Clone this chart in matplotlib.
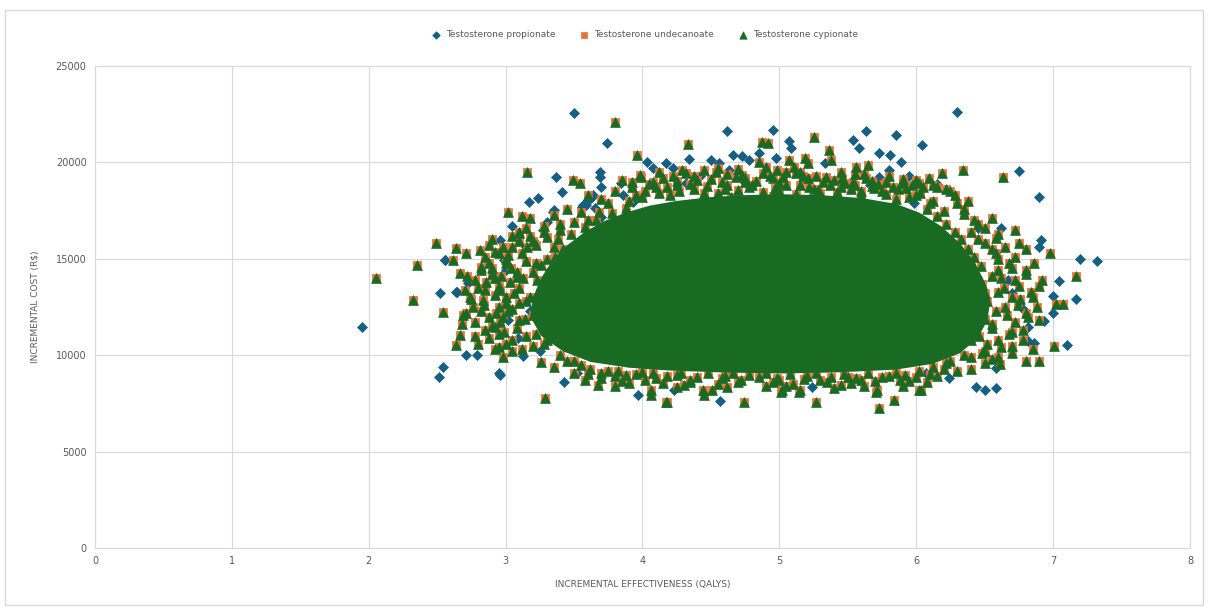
import matplotlib.pyplot as plt
from matplotlib.patches import Rectangle

# Testosterone propionate (blue diamonds)
prop_x = [1.95, 2.52, 2.645, 2.71, 2.79, 2.54, 2.51, 2.96, 3.09, 3.13, 3.43, 3.97, 4.23, 4.57,
          5.24, 6.24, 6.07, 6.44, 6.50, 6.58, 3.50, 3.74, 3.37, 3.69, 3.69, 3.70, 3.41, 3.64,
          3.60, 3.56, 3.17, 3.24, 3.35, 2.96, 2.56, 4.62, 4.95, 5.07, 5.63, 5.85, 6.04, 5.535,
          5.58, 5.725, 5.81, 5.89, 4.34, 4.50, 4.66, 4.73, 4.78, 4.03, 4.08, 4.17, 4.22, 5.085,
          4.56, 4.635, 4.85, 4.975, 5.33, 5.73, 5.80, 3.845, 3.86, 3.93, 3.625, 3.59, 3.65, 3.70,
          6.75, 6.90, 6.91, 6.90, 7.20, 7.32, 7.04, 7.00, 7.17, 6.93, 7.00, 7.10, 6.82, 6.86,
          6.82, 6.70, 6.67, 3.005, 3.15, 3.20, 3.27, 2.725, 2.64, 2.555, 2.99, 2.955, 3.345,
          3.565, 4.42, 5.45, 5.95, 6.15, 6.30, 6.45, 3.30, 3.05,
          3.18, 3.02, 3.25, 6.62, 6.78, 6.58, 4.32, 5.66, 5.98, 3.52]
prop_y = [11480, 13240, 13295, 10010, 10010, 9370, 8885, 8970, 10870, 9960, 8630, 7940, 8200, 7640,
          8370, 8800, 9060, 8330, 8200, 8280, 22580, 21020, 19260, 19520, 19260, 18740, 18480, 18310,
          18050, 17700, 17960, 18140, 17530, 15975, 14940, 21650, 21680, 21130, 21630, 21400, 20900, 21160,
          20760, 20500, 20380, 20040, 20160, 20120, 20380, 20330, 20120, 20040, 19690, 19950, 19690, 20730,
          19950, 19600, 20470, 20210, 19950, 19260, 19600, 18920, 18310, 17960, 18140, 17790, 17620, 17180,
          19570, 18190, 15975, 15600, 14970, 14890, 13830, 13090, 12900, 11790, 12200, 10530, 10720, 10620,
          11480, 13210, 13900, 14420, 15630, 15975, 16500, 13730, 13300, 14940, 14940, 9060, 17450,
          17790, 19300, 19100, 19300, 18900, 22600, 16600, 16900, 16700,
          12300, 11800, 10200, 16600, 12400, 9350, 18950, 18850, 17900, 9050]

# Testosterone undecanoate (orange squares) - fringe of the cloud
und_x = [3.80, 3.96, 4.33, 4.87, 4.92, 5.255, 5.365, 4.85, 4.90, 5.07, 5.11, 5.19, 5.21, 5.38,
         5.56, 5.645, 4.29, 4.45, 4.54, 4.73, 4.95, 5.05, 5.21, 5.34, 5.46, 5.535, 5.83, 5.925,
         5.69, 3.92, 3.99, 3.49, 3.54, 3.16, 6.34, 6.19, 6.09, 6.635,
         4.10, 4.20, 4.35, 4.60, 4.65, 4.80, 5.00, 5.15, 5.30, 5.45, 5.60, 5.75, 5.85, 6.00,
         6.10, 4.00, 3.90, 4.45, 5.55, 4.95, 4.25, 4.75, 5.25, 5.90, 6.05, 6.25, 6.30, 6.20,
         3.75, 3.68, 3.60, 3.80,
         3.02, 3.175, 3.10, 2.64, 2.81, 2.92, 2.71, 2.49, 2.615, 2.82, 2.665, 2.355, 2.05, 2.32,
         2.74, 2.71, 2.54, 2.69, 2.835, 2.88, 2.92, 2.99, 2.665, 2.64, 2.98, 3.26, 3.285, 3.10,
         3.16, 3.22, 3.08, 3.30,
         2.90, 2.95, 3.00, 2.85, 3.05, 3.10, 3.15, 3.20, 3.25, 3.30, 3.35, 3.40, 3.50, 3.60,
         2.78, 2.95, 3.10, 3.15, 3.20, 3.30, 3.25, 3.05, 2.85, 3.40, 3.50, 3.35, 3.00, 3.05,
         3.20, 3.45, 2.90,
         3.674, 3.905, 4.063, 4.173, 4.453, 4.745, 5.012, 5.146, 5.268, 5.705, 5.84, 6.034, 5.73,
         4.18, 4.06, 4.44, 4.51, 5.02, 5.15, 5.71, 6.02,
         3.60, 3.80, 3.95, 4.10, 4.25, 4.35, 4.60, 4.70, 4.85, 5.00, 5.20, 5.35, 5.50, 5.60,
         5.80, 5.95, 6.10, 6.20, 4.30, 4.90, 5.45, 5.90, 3.75, 3.55,
         6.98, 7.17, 7.07, 7.02, 7.01, 6.90, 6.80, 6.61,
         6.45, 6.55, 6.60, 6.70, 6.80, 6.75, 6.85, 6.65, 6.80, 6.90, 6.70, 6.60, 6.50, 6.40,
         6.55, 6.45, 6.35, 6.60, 6.50, 6.55, 6.70, 6.85, 6.62, 6.40, 6.75, 6.90,
         # dense ring just outside the solid core
         3.95, 4.02, 4.12, 4.18, 4.27, 4.38, 4.47, 4.55, 4.62, 4.70, 4.78, 4.88, 4.97, 5.05,
         5.12, 5.22, 5.28, 5.37, 5.42, 5.52, 5.60, 5.68, 5.78, 5.87, 5.95, 6.03, 6.12,
         4.05, 4.15, 4.40, 4.58, 4.68, 4.83, 5.00, 5.17, 5.32, 5.48, 5.63, 5.72, 5.97, 6.15,
         4.25, 4.93,
         3.28, 3.22, 3.30, 3.20, 3.27, 3.18, 3.30, 3.23, 3.32, 3.26, 3.36, 3.42, 3.38, 3.48,
         3.58, 3.66, 3.78, 3.88,
         3.12, 3.08, 3.14, 3.02, 3.10, 3.06, 3.13, 3.04, 3.15, 3.12, 3.22, 3.28, 3.40,
         2.95, 2.88, 2.96, 2.84, 2.92, 2.86, 2.97, 2.88, 2.98,
         6.48, 6.52, 6.46, 6.55, 6.50, 6.58, 6.52, 6.60, 6.48, 6.55, 6.47, 6.42, 6.38, 6.33,
         6.28, 6.22, 6.15, 6.08, 6.35, 6.25,
         6.62, 6.68, 6.72, 6.66, 6.74, 6.70, 6.64, 6.72, 6.60, 6.68, 6.58, 6.50, 6.40,
         3.62, 3.70, 3.82, 3.88, 4.00, 4.08, 4.18, 4.28, 4.40, 4.48, 4.58, 4.66, 4.78, 4.90,
         4.98, 5.08, 5.18, 5.27, 5.38, 5.47, 5.56, 5.65, 5.75, 5.85, 5.92, 6.02, 6.12, 6.22,
         # outer ring
         3.85, 3.98, 4.08, 4.22, 4.32, 4.50, 4.62, 4.75, 4.88, 5.03, 5.15, 5.27, 5.40, 5.55,
         5.68, 5.80, 5.90, 6.02, 6.12, 6.22,
         2.78, 2.82, 2.75, 2.80, 2.72, 2.90, 2.85, 2.78, 2.92, 2.98, 3.00, 3.05, 3.15, 2.95,
         6.78, 6.82, 6.76, 6.84, 6.80, 6.72, 6.65, 6.58, 6.50, 6.42, 6.35, 6.78, 6.70, 6.60,
         3.70, 3.85, 4.02, 4.15, 4.35, 4.55, 4.72, 4.95, 5.10, 5.30, 5.52, 5.70, 5.88, 6.00,
         6.15, 6.30, 3.50, 3.45,
         # extra fringe
         2.90, 2.95, 3.00, 3.05, 2.93, 3.00, 2.96, 3.03, 2.92, 3.08, 3.02, 3.10, 3.18, 3.28,
         2.82, 2.88, 2.70, 2.76, 2.68, 2.80, 3.12, 3.35, 3.45, 3.55,
         4.12, 4.38, 4.55, 4.98, 5.12, 5.45, 5.62, 5.78, 6.00, 6.28, 6.38, 4.70, 3.92, 3.70,
         3.80, 4.25, 4.62, 5.05, 5.40, 5.62, 6.08, 6.40, 6.50, 3.58,
         6.88, 6.92, 6.86, 6.80, 6.72, 6.55]
und_y = [22100, 20380, 20950, 21070, 20990, 21300, 20640, 20040, 19780, 20120, 19780, 20210, 19950, 20120,
         19780, 19870, 19600, 19600, 19520, 19350, 19170, 19520, 19170, 19260, 19170, 19000, 18740, 18650,
         18650, 19000, 19260, 19090, 18920, 19480, 19600, 19430, 19170, 19260,
         18700, 18300, 18900, 18600, 18200, 18800, 18500, 18800, 18400, 18700, 18300, 18500, 18100, 18300,
         17900, 18200, 18000, 18400, 18850, 18250, 19050, 19000, 18600, 18950, 18700, 18500, 17900, 17500,
         17900, 17400, 18300, 18500,
         17450, 17100, 16410, 15540, 15460, 15370, 15280, 15800, 14940, 14590, 14250, 14700, 14000, 12860,
         13040, 12170, 12260, 12085, 12860, 12000, 11480, 11220, 11050, 10530, 9920, 9660, 7800, 16330,
         15630, 14770, 14070, 16150,
         14200, 13600, 13000, 13400, 12400, 13500, 12800, 14300, 13200, 15000, 15600, 16500, 16900, 17000,
         13900, 12500, 11800, 11000, 10500, 10800, 12000, 10800, 11300, 10000, 9700, 9400, 15000, 15600,
         15900, 15300, 16000,
         8455, 8540, 7935, 7590, 7935, 7590, 8110, 8110, 7590, 8110, 7680, 8195, 7240,
         7590, 8200, 8200, 8200, 8200, 8200, 8200, 8200,
         9000, 8900, 9000, 8800, 8950, 8700, 8900, 8600, 8850, 8700, 8900, 8600, 8850, 8700,
         8900, 8650, 9000, 9300, 8450, 8400, 8450, 8400, 9200, 9500,
         15280, 14090, 12660, 12660, 10480, 9715, 9715, 9540,
         16000, 15500, 15000, 14500, 14200, 13600, 13000, 12500, 12200, 11800, 11200, 10800, 10200, 9900,
         9800, 16800, 17300, 16300, 13200, 11600, 10500, 10300, 14000, 10800, 15800, 13600,
         18300, 18500, 18400, 18700, 18500, 18600, 18750, 18400, 18800, 18550, 18700, 18450, 18650, 18800,
         18350, 18700, 18550, 18800, 18450, 18600, 18500, 18750, 18350, 18600, 18200, 18400, 18000,
         18900, 19200, 19100, 19000, 19250, 19050, 18950, 19300, 19000, 18950, 19200, 18900, 18850, 18700,
         18850, 19300,
         10600, 11100, 11500, 12100, 12500, 13000, 13400, 13900, 14300, 14700, 15100, 15500, 16000, 16300,
         16650, 17000, 17350, 17650,
         10300, 11400, 11900, 12300, 12700, 13200, 14000, 14500, 14900, 15300, 15700, 16400, 16800,
         10400, 10900, 11700, 12600, 13100, 13800, 14100, 14800, 15600,
         10100, 10600, 11000, 11400, 11900, 12300, 12800, 13300, 13700, 14100, 14600, 15100, 15500, 16000,
         16400, 16800, 17200, 17600, 10000, 9700,
         10400, 11100, 11700, 12100, 12600, 13000, 13500, 13900, 14400, 14800, 15300, 15800, 16400,
         9300, 9100, 9200, 8950, 9150, 9050, 8900, 9100, 8850, 9050, 8800, 9100, 8950, 9050,
         8800, 9000, 8750, 9050, 8850, 9000, 8800, 9050, 8850, 9100, 8950, 9200, 9400, 9600,
         19100, 19350, 19000, 19300, 19450, 19150, 19400, 19200, 19450, 19250, 19500, 19300, 19100, 19400,
         19050, 19300, 19150, 18950, 18800, 18600,
         11700, 12300, 12900, 13500, 14100, 14500, 15100, 11000, 10300, 12000, 14800, 16200, 16600, 15300,
         11300, 12000, 12900, 13300, 14400, 15100, 15600, 16100, 16600, 17000, 17600, 10800, 10100, 9900,
         8800, 8650, 8700, 8550, 8600, 8500, 8700, 8600, 8500, 8700, 8550, 8650, 8700, 8850,
         8900, 9200, 9100, 9700,
         11500, 11100, 10600, 10200, 12200, 12700, 13400, 13800, 14000, 14300, 15200, 15900, 16200, 16700,
         14400, 15700, 13400, 12500, 11600, 10600, 17200, 17250, 17600, 17450,
         19500, 19300, 19700, 19600, 19450, 19500, 19400, 19000, 19100, 18300, 18000, 19650, 18700, 18100,
         8400, 8350, 8350, 8400, 8300, 8400, 8600, 9300, 9600, 8700,
         12500, 13900, 14800, 15500, 16500, 17100]

# Testosterone cypionate (green triangles) - drawn over the same spots
cyp_x = list(und_x)
cyp_y = list(und_y)

# outline of the solid green core of the cypionate cloud
core_x = [3.18, 3.20, 3.26, 3.34, 3.45, 3.58, 3.72, 3.88, 4.05, 4.25, 4.50, 4.75, 5.00, 5.30,
          5.60, 5.85, 6.02, 6.18, 6.32, 6.43, 6.50, 6.54, 6.52, 6.45, 6.32, 6.12, 5.85, 5.40,
          5.00, 4.60, 4.20, 3.90, 3.62, 3.42, 3.26]
core_y = [12000, 13000, 14000, 14900, 15700, 16400, 16950, 17400, 17750, 18000, 18200, 18300, 18350, 18300,
          18150, 17850, 17400, 16700, 15800, 14800, 13800, 12800, 11800, 10900, 10100, 9550, 9250, 9100,
          9050, 9100, 9200, 9350, 9650, 10200, 11000]

BLUE = "#156082"
ORANGE = "#E97132"
GREEN = "#196B24"
TXT = "#595959"
GRID = "#D9D9D9"

fig = plt.figure(figsize=(12.08, 6.09), dpi=100)
ax = fig.add_axes([0.0786, 0.1002, 0.9065, 0.7915])

ax.scatter(prop_x, prop_y, marker="D", s=26, color=BLUE, edgecolors=BLUE, linewidths=0.5,
           zorder=2, label="Testosterone propionate")
ax.scatter(und_x, und_y, marker="s", s=30, color=ORANGE, edgecolors=ORANGE, linewidths=0.5,
           zorder=3, label="Testosterone undecanoate")
ax.fill(core_x, core_y, color=GREEN, lw=0, zorder=4)
ax.scatter(cyp_x, cyp_y, marker="^", s=50, color=GREEN, edgecolors=GREEN, linewidths=0.5,
           zorder=5, label="Testosterone cypionate")

ax.set_xlim(0, 8)
ax.set_ylim(0, 25000)
ax.set_xticks(range(0, 9))
ax.set_yticks(range(0, 25001, 5000))
ax.grid(True, color=GRID, linewidth=0.8)
ax.set_axisbelow(True)
for sp in ax.spines.values():
    sp.set_color(GRID)
    sp.set_linewidth(0.8)
ax.tick_params(length=0, labelsize=7, labelcolor=TXT, pad=6)

ax.set_xlabel("INCREMENTAL EFFECTIVENESS (QALYS)", fontsize=6.5, color=TXT, labelpad=10)
ax.set_ylabel("INCREMENTAL COST (R$)", fontsize=6.5, color=TXT, labelpad=12)

ax.legend(loc="center", bbox_to_anchor=(0.5, 1.065), ncol=3, frameon=False, fontsize=6.5,
          labelcolor=TXT, handletextpad=0.1, columnspacing=2.2, markerscale=0.75)

# chart border
fig.patches.append(Rectangle((0.004, 0.007), 0.992, 0.977, transform=fig.transFigure,
                             fill=False, edgecolor=GRID, linewidth=1))

fig.savefig("out.png", dpi=100)
